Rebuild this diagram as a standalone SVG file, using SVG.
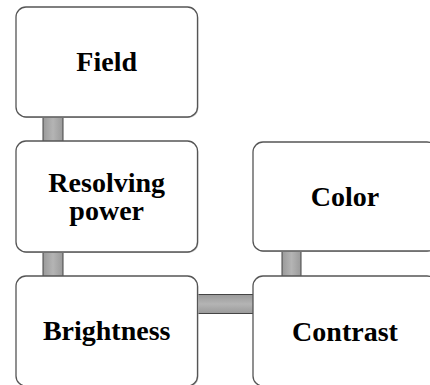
<svg xmlns="http://www.w3.org/2000/svg" width="430" height="385" viewBox="0 0 430 385">
<defs>
<linearGradient id="gv" x1="0" y1="0" x2="1" y2="0"><stop offset="0" stop-color="#9a9a9a"/><stop offset="0.5" stop-color="#b4b4b4"/><stop offset="1" stop-color="#9a9a9a"/></linearGradient>
<linearGradient id="gh" x1="0" y1="0" x2="0" y2="1"><stop offset="0" stop-color="#9a9a9a"/><stop offset="0.5" stop-color="#b4b4b4"/><stop offset="1" stop-color="#9a9a9a"/></linearGradient>
</defs>
<style>
.box{fill:#fff;stroke:#555;stroke-width:1.3}
.sh{fill:#c8c8c8}
.lbl{font-family:"Liberation Serif","Times New Roman",serif;font-weight:bold;font-size:28px;fill:#000;text-anchor:middle}
.cv{fill:url(#gv);stroke:#444;stroke-width:1}
.ch{fill:url(#gh);stroke:#444;stroke-width:1}
</style>
<rect width="430" height="385" fill="#fff"/>
<g id="connectors">
<rect class="cv" x="43" y="116" width="20" height="26"/>
<rect class="cv" x="43" y="251" width="20" height="26"/>
<rect class="cv" x="282" y="250" width="19" height="27"/>
<rect class="ch" x="197" y="294.5" width="57" height="19"/>
</g>
<g id="field">
<rect class="sh" x="17" y="8" width="181.5" height="110" rx="10"/>
<rect class="box" x="16" y="7" width="181.5" height="110" rx="10"/>
<text class="lbl" x="106.7" y="71">Field</text>
</g>
<g id="resolving">
<rect class="sh" x="17" y="142" width="181.5" height="111" rx="10"/>
<rect class="box" x="16" y="141" width="181.5" height="111" rx="10"/>
<text class="lbl" x="106.7" y="192">Resolving</text>
<text class="lbl" x="106.7" y="220">power</text>
</g>
<g id="brightness">
<rect class="sh" x="17" y="277" width="181.5" height="110" rx="10"/>
<rect class="box" x="16" y="276" width="181.5" height="110" rx="10"/>
<text class="lbl" x="106.7" y="340">Brightness</text>
</g>
<g id="color">
<rect class="sh" x="254" y="143" width="184" height="109" rx="10"/>
<rect class="box" x="253" y="142" width="184" height="109" rx="10"/>
<text class="lbl" x="345" y="205.5">Color</text>
</g>
<g id="contrast">
<rect class="sh" x="254" y="277" width="184" height="110" rx="10"/>
<rect class="box" x="253" y="276" width="184" height="110" rx="10"/>
<text class="lbl" x="345" y="341">Contrast</text>
</g>
</svg>
